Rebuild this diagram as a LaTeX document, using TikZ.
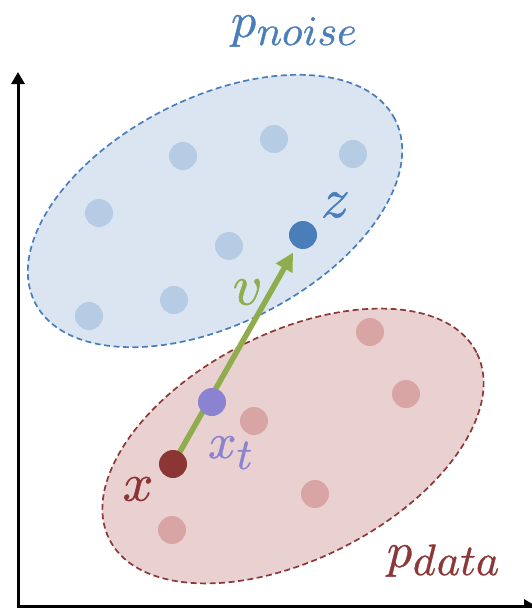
\documentclass[tikz,border=0pt]{standalone}
\usepackage{fontspec}
\usepackage{unicode-math}
\setmathfont{Latin Modern Math}[FakeBold=0.8]
\usetikzlibrary{arrows.meta,backgrounds}
\definecolor{bline}{RGB}{74,126,187}
\definecolor{bfill}{RGB}{218,229,241}
\definecolor{bdot}{RGB}{181,204,228}
\definecolor{rline}{RGB}{140,56,56}
\definecolor{rfill}{RGB}{234,209,209}
\definecolor{rdot}{RGB}{217,165,164}
\definecolor{xdot}{RGB}{140,53,53}
\definecolor{pdot}{RGB}{139,131,207}
\definecolor{garrow}{RGB}{144,173,78}
\tikzset{
  cloud/.style={line width=1.7pt, dash pattern=on 6pt off 3.5pt},
  dotnode/.style={circle, inner sep=0pt, minimum size=28pt, draw=none},
  axis/.style={line width=3pt, -{Triangle[length=12pt,width=13pt]}},
  flow/.style={line width=5.5pt, -{Triangle[length=18pt,width=18pt]}, draw=garrow, shorten >=6pt},
  lbl/.style={inner sep=0pt, outer sep=0pt}
}
\newcommand{\fsz}[1]{\fontsize{#1}{#1}\selectfont}
\begin{document}
\begin{tikzpicture}[x=1pt,y=-1pt]
\useasboundingbox (0,0) rectangle (532,608);
% axes
\coordinate (o) at (18,606);
\coordinate (ybot) at (18,610);
\coordinate (ytop) at (18,72);
\coordinate (xr) at (536,606);
\draw[axis] (ybot) -- (ytop);
\draw[axis] (o) -- (xr);
% distributions
\begin{scope}[on background layer]
\path[cloud, draw=bline, fill=bfill, rotate around={27:(215,211)}] (215,211) ellipse [x radius=202pt, y radius=113pt];
\path[cloud, draw=rline, fill=rfill, rotate around={27:(293,446)}] (293,446) ellipse [x radius=206pt, y radius=113pt];
\end{scope}
% noise samples
\foreach \p [count=\i] in {(183,156),(274,139),(353,154),(99,213),(229,246),(174,300),(89,316)}
  \node[dotnode, fill=bdot] (b\i) at \p {};
% data samples
\foreach \p [count=\i] in {(370,332),(406,394),(254,421),(315,494),(172,530)}
  \node[dotnode, fill=rdot] (r\i) at \p {};
\node[dotnode, fill=bline] (z) at (303,235) {};
\node[dotnode, fill=xdot] (x) at (173,464) {};
\node[dotnode, fill=pdot] (xt) at (212,402) {};
\begin{scope}[on background layer]
\draw[flow] (x.center) -- (z);
\end{scope}
% labels
\node[lbl, text=bline, anchor=base west] (pn) at (231,37) {\fsz{50}$p$\fsz{42}\raisebox{-8pt}{$noise$}};
\node[lbl, text=rline, anchor=base west] (pd) at (387,567) {\fsz{50}$p$\fsz{44}\raisebox{-8pt}{$data$}};
\node[lbl, text=bline] (zl) at (335,205) {\fsz{57}$z$};
\node[lbl, text=xdot] (xl) at (138,489) {\fsz{54}$x$};
\node[lbl, text=garrow] (vl) at (247,292) {\fsz{58}$v$};
\node[lbl, text=pdot, anchor=base west] (xtl) at (208,458) {\fsz{50}$x$\fsz{44}\raisebox{-11pt}{$t$}};
\end{tikzpicture}
\end{document}
